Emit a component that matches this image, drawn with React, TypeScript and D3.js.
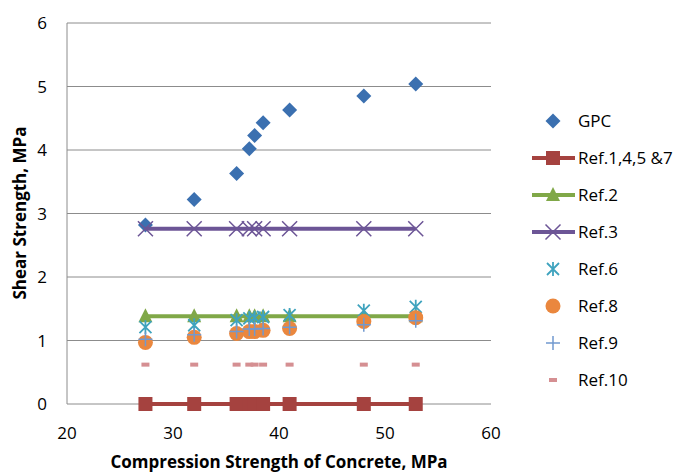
import React from "react";
import * as d3 from "d3";

const strengths = [27.4, 32, 36, 37.2, 37.7, 38.5, 41, 48, 52.9];
const gpc = [2.82, 3.22, 3.63, 4.02, 4.23, 4.43, 4.63, 4.85, 5.04];
const ref1457 = [0, 0, 0, 0, 0, 0, 0, 0, 0];
const ref2 = [1.38, 1.38, 1.38, 1.38, 1.38, 1.38, 1.38, 1.38, 1.38];
const ref3 = [2.76, 2.76, 2.76, 2.76, 2.76, 2.76, 2.76, 2.76, 2.76];
const ref6 = [1.21, 1.24, 1.32, 1.35, 1.36, 1.37, 1.4, 1.47, 1.53];
const ref8 = [0.97, 1.05, 1.11, 1.14, 1.14, 1.16, 1.19, 1.3, 1.36];
const ref9 = [1.02, 1.09, 1.14, 1.18, 1.18, 1.19, 1.21, 1.25, 1.31];
const ref10 = [0.62, 0.62, 0.62, 0.62, 0.62, 0.62, 0.62, 0.62, 0.62];

const xTicks = [20, 30, 40, 50, 60];
const yTicks = [0, 1, 2, 3, 4, 5, 6];

type Series = { name: string; values: number[]; color: string; marker: string; line: boolean };

const series: Series[] = [
  { name: "GPC", values: gpc, color: "#3B70B0", marker: "diamond", line: false },
  { name: "Ref.1,4,5 &7", values: ref1457, color: "#A5423F", marker: "square", line: true },
  { name: "Ref.2", values: ref2, color: "#80A848", marker: "triangle", line: true },
  { name: "Ref.3", values: ref3, color: "#6C5596", marker: "x", line: true },
  { name: "Ref.6", values: ref6, color: "#3FA3BE", marker: "star", line: false },
  { name: "Ref.8", values: ref8, color: "#EA873E", marker: "circle", line: false },
  { name: "Ref.9", values: ref9, color: "#7199CF", marker: "plus", line: false },
  { name: "Ref.10", values: ref10, color: "#D58F92", marker: "dash", line: false },
];

const W = 682;
const H = 472;
const left = 67;
const right = 491;
const top = 23;
const bottom = 404;
const FONT = "'Open Sans', sans-serif";

function Marker({ type, x, y, color }: { type: string; x: number; y: number; color: string }) {
  switch (type) {
    case "diamond":
      return <path d={`M${x},${y - 7.5}L${x + 7.5},${y}L${x},${y + 7.5}L${x - 7.5},${y}Z`} fill={color} />;
    case "square":
      return <rect x={x - 7} y={y - 7} width={14} height={14} fill={color} />;
    case "triangle":
      return <path d={`M${x},${y - 8}L${x + 7},${y + 6}L${x - 7},${y + 6}Z`} fill={color} />;
    case "x":
      return (
        <path
          d={`M${x - 7.5},${y - 7.5}L${x + 7.5},${y + 7.5}M${x - 7.5},${y + 7.5}L${x + 7.5},${y - 7.5}`}
          stroke={color}
          strokeWidth={1.5}
          fill="none"
        />
      );
    case "star":
      return (
        <path
          d={`M${x - 6},${y - 6}L${x + 6},${y + 6}M${x - 6},${y + 6}L${x + 6},${y - 6}M${x},${y - 7}L${x},${y + 7}`}
          stroke={color}
          strokeWidth={1.8}
          fill="none"
        />
      );
    case "circle":
      return <circle cx={x} cy={y} r={7.5} fill={color} />;
    case "plus":
      return (
        <path
          d={`M${x - 7},${y}L${x + 7},${y}M${x},${y - 7}L${x},${y + 7}`}
          stroke={color}
          strokeWidth={1.5}
          fill="none"
        />
      );
    case "dash":
      return <rect x={x - 4} y={y - 2} width={8} height={4} fill={color} />;
    default:
      return null;
  }
}

export default function App() {
  const xScale = d3.scaleLinear().domain([20, 60]).range([left, right]);
  const yScale = d3.scaleLinear().domain([0, 6]).range([bottom, top]);
  const lineGen = d3
    .line<[number, number]>()
    .x((d) => xScale(d[0]))
    .y((d) => yScale(d[1]));

  const legendX = 553;
  const legendY0 = 121;
  const legendStep = 37;

  return (
    <svg
      width={W}
      height={H}
      style={{ position: "absolute", left: 0, top: 0, background: "#fff" }}
      fontFamily={FONT}
    >
      <rect width={W} height={H} fill="#fff" />
      {yTicks.map((t) => (
        <g key={"y" + t}>
          <line x1={left} x2={right} y1={yScale(t)} y2={yScale(t)} stroke="#8C8C8C" strokeWidth={1} />
          <text x={47} y={yScale(t) + 6} textAnchor="end" fontSize={17} fill="#000">
            {t}
          </text>
        </g>
      ))}
      <line x1={left} x2={left} y1={top} y2={bottom} stroke="#8C8C8C" strokeWidth={1} />
      {xTicks.map((t) => (
        <text key={"x" + t} x={xScale(t)} y={439} textAnchor="middle" fontSize={17} fill="#000">
          {t}
        </text>
      ))}
      <text x={279} y={468} textAnchor="middle" fontSize={17} fontWeight="bold" fill="#000">
        Compression Strength of Concrete, MPa
      </text>
      <text
        transform={`translate(26,213) rotate(-90)`}
        textAnchor="middle"
        fontSize={17}
        fontWeight="bold"
        fill="#000"
      >
        Shear Strength, MPa
      </text>

      {series.map((s) => {
        const pts: [number, number][] = strengths.map((x, i) => [x, s.values[i]]);
        return (
          <g key={s.name}>
            {s.line && <path d={lineGen(pts) || ""} stroke={s.color} strokeWidth={4} fill="none" />}
            {pts.map((p, i) => (
              <Marker key={i} type={s.marker} x={xScale(p[0])} y={yScale(p[1])} color={s.color} />
            ))}
          </g>
        );
      })}

      {series.map((s, i) => {
        const y = legendY0 + i * legendStep;
        return (
          <g key={"leg" + s.name}>
            {s.line && <line x1={532} x2={575} y1={y} y2={y} stroke={s.color} strokeWidth={4} />}
            <Marker type={s.marker} x={legendX} y={y} color={s.color} />
            <text x={578} y={y + 6} fontSize={17} fill="#000">
              {s.name}
            </text>
          </g>
        );
      })}
    </svg>
  );
}
